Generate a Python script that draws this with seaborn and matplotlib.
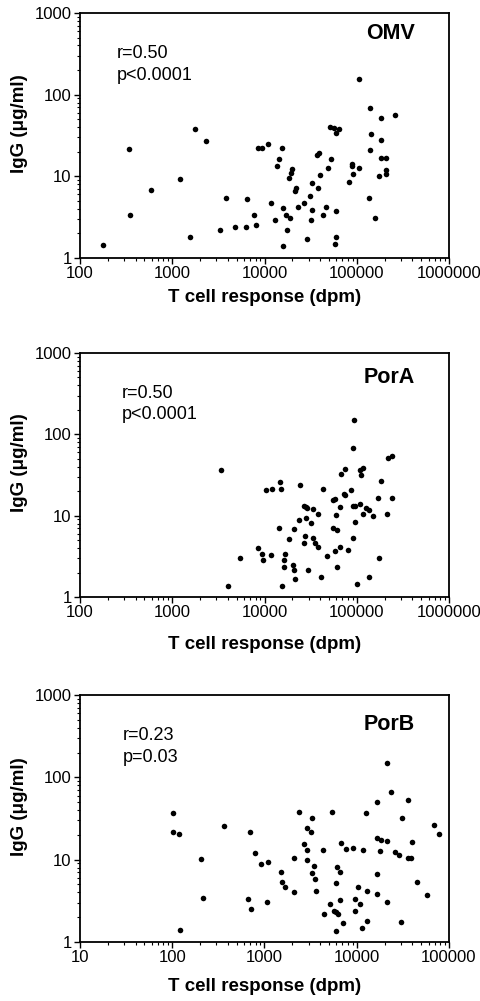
import numpy as np
import pandas as pd
import matplotlib
matplotlib.use("Agg")
import matplotlib.pyplot as plt
import seaborn as sns
from matplotlib.ticker import FixedLocator, FixedFormatter, LogLocator, NullFormatter

# ---------------- data ----------------
omv_dpm = [176, 337, 346, 589, 1205, 1546, 1778, 2303, 3267, 3797, 4827, 6350, 6510,
           7640, 8030, 8570, 9330, 10990, 11760, 15360, 14360, 13670, 13100, 15750,
           16980, 19050, 17540, 15750, 20010, 19230, 18440, 22130, 21570, 22900, 27030,
           28660, 30900, 32500, 32500, 31920, 38020, 37390, 38980, 39970, 46070, 43050,
           48790, 52200, 51290, 56650, 63720, 60000, 59600, 59600, 58700, 81800, 88150,
           88900, 90400, 105000, 105000, 138100, 142700, 140300, 136800, 158900, 181800,
           181800, 260000, 183200, 209100, 205700, 209100, 175700]
omv_igg = [1.43, 21.4, 3.36, 6.8, 9.2, 1.81, 37.9, 26.8, 2.22, 5.42, 2.42, 2.40, 5.27,
           3.39, 2.51, 22.0, 22.0, 24.9, 4.67, 22.0, 16.1, 13.4, 2.92, 4.13,
           3.39, 3.09, 2.22, 1.41, 12.4, 10.9, 9.5, 7.26, 6.67, 4.25, 4.67,
           1.69, 5.79, 8.36, 3.90, 2.89, 7.13, 18.2, 19.5, 10.4, 4.21, 3.33,
           12.7, 16.4, 39.8, 38.7, 38.3, 33.6, 3.76, 1.81, 1.50, 8.59, 14.1,
           13.4, 10.6, 12.5, 155, 69.2, 33.2, 21.2, 5.42, 3.09, 52.2,
           27.6, 56.2, 16.9, 16.9, 11.9, 10.6, 10.1]

pora_dpm = [3377, 4020, 5425, 8570, 9330, 9710, 10470, 11970, 11760, 14480, 14600, 15220,
            15480, 16810, 16390, 16150, 18300, 20220, 21050, 21570, 20740, 24440, 23660,
            26600, 28180, 28890, 28400, 27700, 26800, 31690, 29850, 33560, 37730, 33810,
            35550, 38300, 40960, 43370, 47620, 92700, 91050, 67500, 75100, 108400, 117800,
            110300, 216400, 239300, 183200, 86600, 73300, 74600, 55700, 57700, 65800, 59100,
            90400, 96400, 108400, 127000, 134700, 116000, 150000, 170000, 239300, 212800,
            96400, 55300, 61500, 90400, 65300, 58100, 79800, 172900, 61500, 100700, 136800]
pora_igg = [36.8, 1.38, 3.05, 4.04, 3.35, 2.85, 20.5, 21.3, 3.25, 7.11, 25.9, 21.5,
            1.38, 3.35, 2.85, 2.36, 5.17, 2.47, 2.13, 1.65, 6.86, 24.0, 8.85,
            13.1, 12.8, 12.5, 9.36, 5.68, 4.61, 8.20, 2.15, 12.1, 10.5, 5.31,
            4.66, 4.12, 1.76, 21.3, 3.22, 150, 67.3, 32.2, 37.5, 36.4, 38.9,
            31.6, 50.7, 54.6, 26.7, 20.5, 18.5, 17.8, 15.6, 15.9, 12.7, 10.1,
            13.1, 13.1, 13.9, 12.3, 11.6, 10.4, 9.82, 16.5, 16.5, 10.4,
            8.43, 7.05, 6.67, 5.31, 4.12, 3.71, 3.82, 3.05, 2.36, 1.46, 1.76]

porb_dpm = [101, 101, 119, 122, 203, 214, 367, 697, 668, 719, 789, 923, 1083, 1064,
            2350, 2866, 3170, 3297, 2660, 2890, 2105, 2890, 3415, 3297, 3526, 3615, 2105,
            1521, 1549, 1681, 4306, 5433, 6700, 7640, 9040, 11690, 12600, 16450, 21280,
            23500, 36200, 30700, 68800, 77300, 16450, 18320, 21280, 17870, 25780, 28500,
            36200, 38450, 40000, 45000, 58200, 16450, 16450, 21280, 29950, 6110, 6640,
            6000, 6640, 5090, 4450, 5670, 6000, 6210, 7040, 6000, 10400, 13010, 9580,
            10930, 9500, 13010, 11400]
porb_igg = [36.9, 21.5, 20.7, 1.39, 10.3, 3.39, 25.9, 21.5, 3.30, 2.49, 12.05, 8.93, 9.45, 3.06,
            37.6, 24.0, 21.7, 31.8, 15.5, 13.1, 10.6, 9.91, 8.38, 6.89, 5.77, 4.16, 4.08,
            7.02, 5.35, 4.66, 13.1, 38.3, 15.9, 13.4, 14.0, 13.2, 36.6, 49.7, 148,
            65.8, 53.1, 31.8, 26.4, 20.3, 18.5, 17.5, 16.7, 12.9, 12.3, 11.5,
            10.4, 10.4, 16.4, 5.31, 3.72, 6.64, 3.86, 3.06, 1.77, 8.22, 7.08,
            5.21, 3.27, 2.87, 2.19, 2.40, 2.31, 2.19, 1.69, 1.37, 4.61, 4.16, 3.36,
            2.87, 2.38, 1.80, 1.47]

panel_names = ["OMV", "PorA", "PorB"]
r_texts = ["r=0.50", "r=0.50", "r=0.23"]
p_texts = ["p<0.0001", "p<0.0001", "p=0.03"]
x_ticks_ab = [100, 1000, 10000, 100000, 1000000]
x_labels_ab = ["100", "1000", "10000", "100000", "1000000"]
x_ticks_c = [10, 100, 1000, 10000, 100000]
x_labels_c = ["10", "100", "1000", "10000", "100000"]
y_ticks = [1, 10, 100, 1000]
y_labels = ["1", "10", "100", "1000"]
x_title = "T cell response (dpm)"
y_title = "IgG (\u03bcg/ml)"

# ---------------- style ----------------
sns.set_style("ticks")
plt.rcParams["font.family"] = ["Liberation Sans", "DejaVu Sans"]
plt.rcParams["axes.edgecolor"] = "black"
plt.rcParams["axes.labelcolor"] = "black"
plt.rcParams["text.color"] = "black"
plt.rcParams["xtick.color"] = "black"
plt.rcParams["ytick.color"] = "black"

W, H = 481, 1001
fig = plt.figure(figsize=(W / 100, H / 100), dpi=100)

# pixel boxes: (left, top, right, bottom)
boxes = [(80, 13, 449, 258), (80, 353, 449, 597), (80, 695, 449, 942)]
title_y = [0.918, 0.899, 0.879]
r_x = [0.100, 0.113, 0.117]
xlab_off = [31, 39, 36]

data = [(omv_dpm, omv_igg), (pora_dpm, pora_igg), (porb_dpm, porb_igg)]
xt = [(x_ticks_ab, x_labels_ab), (x_ticks_ab, x_labels_ab), (x_ticks_c, x_labels_c)]

for i, (box, (xd, yd)) in enumerate(zip(boxes, data)):
    l, t, r, b = box
    ax = fig.add_axes([l / W, 1 - b / H, (r - l) / W, (b - t) / H])
    df = pd.DataFrame({"dpm": xd, "igg": yd})
    sns.scatterplot(data=df, x="dpm", y="igg", ax=ax, color="black", s=16,
                    linewidth=0, legend=False)
    ax.set_xscale("log")
    ax.set_yscale("log")
    ticks, labels = xt[i]
    ax.set_xlim(ticks[0], ticks[-1])
    ax.set_ylim(y_ticks[0], y_ticks[-1])
    ax.xaxis.set_major_locator(FixedLocator(ticks))
    ax.xaxis.set_major_formatter(FixedFormatter(labels))
    ax.yaxis.set_major_locator(FixedLocator(y_ticks))
    ax.yaxis.set_major_formatter(FixedFormatter(y_labels))
    ax.xaxis.set_minor_locator(LogLocator(base=10, subs=np.arange(2, 10)))
    ax.yaxis.set_minor_locator(LogLocator(base=10, subs=np.arange(2, 10)))
    ax.xaxis.set_minor_formatter(NullFormatter())
    ax.yaxis.set_minor_formatter(NullFormatter())
    ax.tick_params(which="major", direction="out", length=4, width=1.0,
                   labelsize=12, pad=2, labelcolor="black")
    ax.tick_params(which="minor", direction="out", length=2, width=0.8)
    for sp in ax.spines.values():
        sp.set_linewidth(1.3)
        sp.set_color("black")
    ax.set_xlabel(x_title, fontsize=13.5, fontweight="bold")
    ax.set_ylabel(y_title, fontsize=13.5, fontweight="bold")
    ax.xaxis.set_label_coords(0.5, -xlab_off[i] / (b - t))
    ax.yaxis.set_label_coords(-0.14, 0.55)
    ax.text(0.908, title_y[i], panel_names[i], transform=ax.transAxes,
            ha="right", va="center", fontsize=15.5, fontweight="bold")
    ax.text(r_x[i], 0.836, r_texts[i], transform=ax.transAxes,
            ha="left", va="center", fontsize=13)
    ax.text(r_x[i], 0.746, p_texts[i], transform=ax.transAxes,
            ha="left", va="center", fontsize=13)

fig.savefig("out.png", dpi=100)
